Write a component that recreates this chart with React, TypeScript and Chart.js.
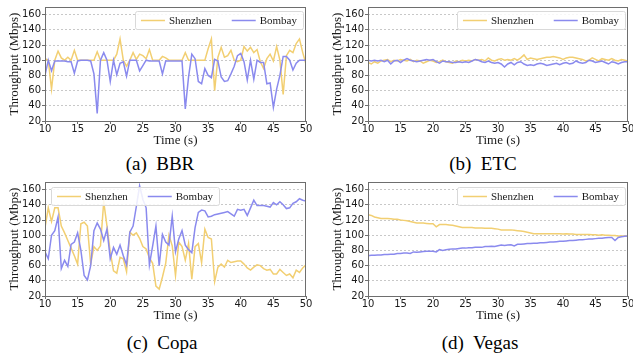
import React, { useEffect, useRef } from "react";
import { Chart, registerables } from "chart.js";

Chart.register(...registerables);

// ---------- data ----------
const TIME = [
  10, 10.5, 11, 11.5, 12, 12.5, 13, 13.5, 14, 14.5,
  15, 15.5, 16, 16.5, 17, 17.5, 18, 18.5, 19, 19.5,
  20, 20.5, 21, 21.5, 22, 22.5, 23, 23.5, 24, 24.5,
  25, 25.5, 26, 26.5, 27, 27.5, 28, 28.5, 29, 29.5,
  30, 30.5, 31, 31.5, 32, 32.5, 33, 33.5, 34, 34.5,
  35, 35.5, 36, 36.5, 37, 37.5, 38, 38.5, 39, 39.5,
  40, 40.5, 41, 41.5, 42, 42.5, 43, 43.5, 44, 44.5,
  45, 45.5, 46, 46.5, 47, 47.5, 48, 48.5, 49, 49.5,
  50,
];

const SERIES_NAMES = ["Shenzhen", "Bombay"];
const Y_TICKS = [20, 40, 60, 80, 100, 120, 140, 160];
const X_TICKS = [10, 15, 20, 25, 30, 35, 40, 45, 50];

const BBR_SHENZHEN = [
  102, 100, 62, 100, 112, 103, 100, 104, 100, 113,
  100, 100, 100, 100, 100, 100, 111, 100, 100, 100,
  100, 100, 108, 128, 100, 92, 100, 110, 101, 108,
  106, 102, 114, 100, 100, 100, 105, 103, 100, 100,
  100, 100, 100, 110, 100, 100, 100, 100, 100, 100,
  115, 128, 60, 104, 117, 104, 106, 113, 100, 98,
  100, 118, 112, 117, 110, 114, 98, 89, 102, 108,
  99, 118, 100, 55, 106, 113, 110, 122, 128, 110,
  95,
];
const BBR_BOMBAY = [
  80, 100, 86, 99, 99, 99, 99, 98, 98, 83,
  99, 100, 100, 100, 99, 82, 30, 100, 110, 100,
  72, 100, 81, 96, 98, 79, 100, 100, 100, 86,
  93, 100, 99, 99, 99, 99, 82, 99, 99, 99,
  99, 99, 99, 36, 78, 108, 102, 72, 69, 89,
  80, 77, 101, 99, 78, 72, 73, 82, 92, 106,
  109, 98, 74, 100, 75, 100, 97, 97, 69, 70,
  38, 62, 80, 105, 105, 100, 87, 96, 100, 100,
  100,
];

const ETC_SHENZHEN = [
  97, 95, 98, 96, 99, 100, 101, 98, 100, 99,
  101, 100, 99, 101, 98, 100, 99, 96, 98, 100,
  99, 97, 98, 100, 98, 97, 96, 99, 98, 100,
  99, 100, 99, 101, 100, 101, 99, 103, 100, 99,
  101, 102, 100, 101, 100, 102, 100, 103, 107, 101,
  103, 102, 101, 102, 103, 104, 104, 105, 104, 103,
  101, 103, 104, 104, 103, 102, 101, 99, 100, 103,
  101, 99, 102, 101, 100, 102, 100, 99, 101, 100,
  99,
];
const ETC_BOMBAY = [
  100, 99, 100, 99, 100, 98, 100, 95, 99, 100,
  97, 100, 102, 100, 99, 98, 99, 100, 101, 100,
  101, 98, 96, 99, 98, 98, 97, 97, 98, 97,
  98, 97, 99, 101, 100, 98, 97, 99, 97, 96,
  97, 95, 91, 95, 97, 94, 97, 98, 95, 93,
  94, 93, 95, 96, 95, 93, 94, 95, 96, 94,
  96, 97, 95, 96, 99, 97, 96, 97, 100, 99,
  97, 98, 99, 97, 95, 98, 97, 95, 97, 98,
  98,
];

const COPA_SHENZHEN = [
  110, 136, 118, 136, 136, 112, 103, 93, 83, 73,
  62, 115, 117, 112, 62, 85, 80, 86, 144, 112,
  78, 53, 50, 71, 69, 52, 104, 100, 103, 96,
  85, 82, 70, 63, 33, 29, 45, 63, 100, 86,
  47, 91, 85, 67, 89, 42, 85, 89, 64, 108,
  97, 95, 39, 58, 62, 58, 67, 64, 65, 66,
  66, 62, 57, 54, 58, 61, 60, 56, 54, 55,
  49, 49, 55, 51, 47, 49, 44, 54, 51, 57,
  61,
];
const COPA_BOMBAY = [
  78, 69, 100, 106, 124, 56, 67, 59, 88, 91,
  103, 80, 47, 41, 60, 106, 116, 108, 93, 108,
  69, 84, 75, 87, 73, 61, 104, 112, 138, 165,
  147, 136, 61, 86, 112, 60, 101, 91, 87, 125,
  78, 95, 106, 87, 81, 77, 110, 130, 133, 132,
  124, 125, 127, 128, 129, 130, 131, 128, 125, 134,
  133, 134, 126, 136, 146, 139, 139, 139, 138, 137,
  143, 140, 144, 140, 135, 136, 142, 144, 148, 146,
  145,
];

const VEGAS_SHENZHEN = [
  127, 126, 124, 123, 122, 122, 122, 121.5, 121, 121,
  120, 119.5, 119, 118, 117, 116, 116, 116, 115.5, 115,
  115, 111, 114, 114, 114, 113.5, 113, 112, 111, 110,
  110, 110, 110, 109.5, 109.5, 109.5, 109, 109, 109, 108.5,
  108, 107, 107, 107, 107, 106.5, 106, 105.5, 105, 104,
  103, 102, 102, 102, 102, 102, 102, 102, 102, 102,
  101.5, 102, 101.5, 101.5, 101, 101, 101, 101, 101, 100.5,
  100.5, 100, 100.5, 100, 100, 99.5, 99.5, 99, 99, 99,
  99,
];
const VEGAS_BOMBAY = [
  73, 73.5, 73.5, 74, 74, 74.5, 74.5, 75, 75, 76,
  76, 76.5, 76.5, 76, 78, 77.5, 78, 78.5, 79, 79,
  79, 78, 81, 80, 81, 81.5, 82, 82, 82.5, 83,
  83, 83.5, 83.5, 84, 84, 84, 85, 85, 85.5, 85,
  86, 87, 86.5, 87, 87.5, 86, 88, 88, 88.5, 89,
  89, 89.5, 89.5, 90, 90, 90.5, 91, 91, 91.5, 92,
  92, 92.5, 93, 93, 93.5, 94, 94, 94.5, 95, 95,
  95.5, 96, 96, 96.5, 97, 97, 93, 97, 98, 98.5,
  99,
];

// ---------- styles ----------
const YELLOW = "#F2CF72";
const BLUE = "#8A8AEE";
const GRID = "#c8c8c8";
const FRAME = "#6e6e6e";
const TEXT = "#1a1a1a";
const SANS = '"DejaVu Sans", sans-serif';
const SERIF = '"Liberation Serif", "Times New Roman", serif';

const frameLegendPlugin = {
  id: "frameLegend",
  afterDatasetsDraw(chart: any, _args: any, opts: any) {
    const { ctx, chartArea: a } = chart;
    ctx.save();
    // legend
    const fontSize = 11;
    ctx.font = `${fontSize}px ${SERIF}`;
    const lineLen = 24;
    const gap = 4;
    const itemGap = 20;
    const padL = 6;
    const padR = 6;
    const items = chart.data.datasets.map((d: any) => ({
      label: d.label,
      color: d.borderColor,
      w: ctx.measureText(d.label).width,
    }));
    let boxW = padL + padR;
    items.forEach((it: any, i: number) => {
      boxW += lineLen + gap + it.w + (i > 0 ? itemGap : 0);
    });
    const boxH = 18;
    const boxX = opts.side === "left" ? a.left + 6 : a.right - 3 - boxW;
    const boxY = a.top + opts.top;
    ctx.fillStyle = "rgba(255,255,255,0.85)";
    ctx.strokeStyle = "#d9d9d9";
    ctx.lineWidth = 1;
    ctx.beginPath();
    if ((ctx as any).roundRect) {
      (ctx as any).roundRect(Math.round(boxX) + 0.5, Math.round(boxY) + 0.5, Math.round(boxW), boxH, 2);
    } else {
      ctx.rect(Math.round(boxX) + 0.5, Math.round(boxY) + 0.5, Math.round(boxW), boxH);
    }
    ctx.fill();
    ctx.stroke();
    let x = boxX + padL;
    const cy = boxY + boxH / 2 + 0.5;
    items.forEach((it: any, i: number) => {
      if (i > 0) x += itemGap;
      ctx.strokeStyle = it.color;
      ctx.lineWidth = 1.5;
      ctx.beginPath();
      ctx.moveTo(x, cy);
      ctx.lineTo(x + lineLen, cy);
      ctx.stroke();
      x += lineLen + gap;
      ctx.fillStyle = TEXT;
      ctx.textBaseline = "middle";
      ctx.textAlign = "left";
      ctx.fillText(it.label, x, cy + 0.5);
      x += it.w;
    });
    // frame
    ctx.strokeStyle = FRAME;
    ctx.lineWidth = 1;
    ctx.strokeRect(
      Math.round(a.left) + 0.5,
      Math.round(a.top) + 0.5,
      Math.round(a.right) - Math.round(a.left) - 1,
      Math.round(a.bottom) - Math.round(a.top)
    );
    ctx.restore();
  },
};

type PanelSpec = {
  caption: string;
  shenzhen: number[];
  bombay: number[];
  legendSide: "left" | "right";
  legendTop: number;
  left: number;
  top: number;
  width: number;
  yAxisWidth: number;
  padRight: number;
  yTitlePad: number;
  captionX: number;
  captionY: number;
};

const CANVAS_H = 152;

function Panel({ spec }: { spec: PanelSpec }) {
  const ref = useRef<HTMLCanvasElement>(null);
  useEffect(() => {
    const toXY = (arr: number[]) => TIME.map((t, i) => ({ x: t, y: arr[i] }));
    const chart = new Chart(ref.current as HTMLCanvasElement, {
      type: "line",
      data: {
        datasets: [
          {
            label: SERIES_NAMES[0],
            data: toXY(spec.shenzhen),
            borderColor: YELLOW,
            backgroundColor: YELLOW,
            borderWidth: 1.5,
            pointRadius: 0,
            tension: 0,
            order: 1,
          },
          {
            label: SERIES_NAMES[1],
            data: toXY(spec.bombay),
            borderColor: BLUE,
            backgroundColor: BLUE,
            borderWidth: 1.5,
            pointRadius: 0,
            tension: 0,
            order: 0,
          },
        ],
      },
      options: {
        animation: false,
        responsive: false,
        devicePixelRatio: 1,
        events: [],
        layout: { padding: { top: 5, right: spec.padRight, bottom: 0, left: 0 } },
        plugins: {
          legend: { display: false },
          tooltip: { enabled: false },
          frameLegend: { side: spec.legendSide, top: spec.legendTop },
        } as any,
        scales: {
          x: {
            type: "linear",
            min: X_TICKS[0],
            max: X_TICKS[X_TICKS.length - 1],
            afterBuildTicks: (s: any) => {
              s.ticks = X_TICKS.map((v) => ({ value: v }));
            },
            ticks: {
              stepSize: 5,
              autoSkip: false,
              maxRotation: 0,
              padding: -1,
              color: TEXT,
              font: { family: SANS, size: 10 },
            },
            grid: {
              drawOnChartArea: false,
              drawTicks: true,
              tickLength: 3,
              tickColor: FRAME,
              tickWidth: 1,
            },
            border: { display: false },
            title: {
              display: true,
              text: "Time (s)",
              color: TEXT,
              font: { family: SERIF, size: 13 },
              padding: { top: 0, bottom: 4 },
            },
            afterFit: (s: any) => {
              s.height = 31;
            },
          },
          y: {
            min: 20,
            max: 170,
            afterBuildTicks: (s: any) => {
              s.ticks = Y_TICKS.map((v) => ({ value: v }));
            },
            ticks: {
              stepSize: 20,
              padding: 1,
              color: TEXT,
              font: { family: SANS, size: 10 },
            },
            grid: {
              color: GRID,
              lineWidth: 1,
              drawTicks: true,
              tickLength: 3,
              tickColor: FRAME,
              tickWidth: 1,
            },
            border: { display: false, dash: [2, 2] },
            title: {
              display: true,
              text: "Throughput (Mbps)",
              color: TEXT,
              font: { family: SERIF, size: 13 },
              padding: { top: spec.yTitlePad, bottom: 0 },
            },
            afterFit: (s: any) => {
              s.width = spec.yAxisWidth;
            },
          },
        },
      } as any,
      plugins: [frameLegendPlugin],
    });
    return () => chart.destroy();
  }, [spec]);

  return (
    <>
      <canvas
        ref={ref}
        width={spec.width}
        height={CANVAS_H}
        style={{
          position: "absolute",
          left: spec.left,
          top: spec.top,
          width: spec.width,
          height: CANVAS_H,
        }}
      />
      <div
        style={{
          position: "absolute",
          left: spec.captionX - 100,
          top: spec.captionY - 11,
          width: 200,
          textAlign: "center",
          fontFamily: SERIF,
          fontSize: 19,
          lineHeight: "22px",
          whiteSpace: "pre",
          color: "#000",
        }}
      >
        {spec.caption}
      </div>
    </>
  );
}

const PANELS: PanelSpec[] = [
  {
    caption: "(a)  BBR",
    shenzhen: BBR_SHENZHEN,
    bombay: BBR_BOMBAY,
    legendSide: "right",
    legendTop: 4,
    left: 0,
    top: 0,
    width: 316,
    yAxisWidth: 45,
    padRight: 10,
    yTitlePad: 7,
    captionX: 160,
    captionY: 164,
  },
  {
    caption: "(b)  ETC",
    shenzhen: ETC_SHENZHEN,
    bombay: ETC_BOMBAY,
    legendSide: "right",
    legendTop: 4,
    left: 316,
    top: 0,
    width: 330,
    yAxisWidth: 52,
    padRight: 18,
    yTitlePad: 14,
    captionX: 483,
    captionY: 164,
  },
  {
    caption: "(c)  Copa",
    shenzhen: COPA_SHENZHEN,
    bombay: COPA_BOMBAY,
    legendSide: "left",
    legendTop: 5,
    left: 0,
    top: 175,
    width: 316,
    yAxisWidth: 45,
    padRight: 10,
    yTitlePad: 7,
    captionX: 162,
    captionY: 343,
  },
  {
    caption: "(d)  Vegas",
    shenzhen: VEGAS_SHENZHEN,
    bombay: VEGAS_BOMBAY,
    legendSide: "right",
    legendTop: 5,
    left: 316,
    top: 175,
    width: 330,
    yAxisWidth: 52,
    padRight: 18,
    yTitlePad: 14,
    captionX: 480,
    captionY: 343,
  },
];

export default function App() {
  return (
    <div
      style={{
        position: "fixed",
        left: 0,
        top: 0,
        width: 633,
        height: 357,
        overflow: "hidden",
        background: "#fff",
      }}
    >
      {PANELS.map((p) => (
        <Panel key={p.caption} spec={p} />
      ))}
    </div>
  );
}
